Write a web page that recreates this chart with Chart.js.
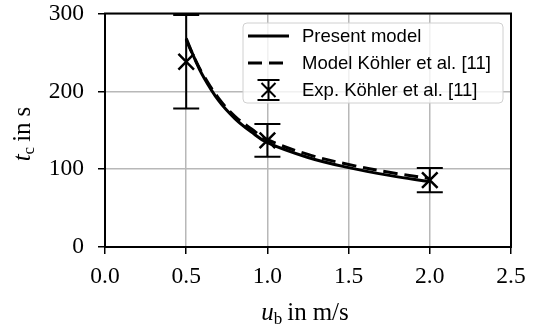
<!DOCTYPE html>
<html>
<head>
<meta charset="utf-8">
<script src="https://cdn.jsdelivr.net/npm/chart.js@4"></script>
<style>
  html, body { margin: 0; padding: 0; background: #fff; }
  #wrap { width: 534px; height: 332px; }
</style>
</head>
<body>
<div id="wrap"><canvas id="tcChart" width="534" height="332"></canvas></div>
<script>
// bulk velocity (m/s) and time values
const uModel = [0.5, 0.55, 0.6, 0.7, 0.8, 0.9, 1.0, 1.25, 1.5, 1.75, 2.0];
const tPresent = [268, 243, 221, 188, 165, 148, 134, 115, 102, 92, 84];
const tKoehler = [266, 243, 223, 191, 168, 152, 138, 119, 106, 96, 88];

const uExp = [0.5, 1.0, 2.0];
const tExp = [238, 137, 86];
const tExpErr = [60, 21, 15.5];

const xTicks = [0, 0.5, 1.0, 1.5, 2.0, 2.5];
const yTicks = [0, 100, 200, 300];

const legendLabels = ['Present model', 'Model Köhler et al. [11]', 'Exp. Köhler et al. [11]'];

const serif = '"Liberation Serif", "DejaVu Serif", serif';
const sans = '"Liberation Sans", Arial, sans-serif';

function toPoints(xs, ys) {
    return xs.map((x, i) => ({ x: x, y: ys[i] }));
}

// error bars with caps, drawn through the chart scales
const errorBars = {
    id: 'errorBars',
    afterDatasetsDraw(chart) {
        const ctx = chart.ctx;
        const xs = chart.scales.x, ys = chart.scales.y;
        ctx.save();
        ctx.strokeStyle = '#000';
        ctx.lineWidth = 2;
        uExp.forEach((u, i) => {
            const px = xs.getPixelForValue(u);
            const top = ys.getPixelForValue(tExp[i] + tExpErr[i]);
            const bot = ys.getPixelForValue(tExp[i] - tExpErr[i]);
            ctx.beginPath();
            ctx.moveTo(px, top); ctx.lineTo(px, bot);
            ctx.moveTo(px - 13, top); ctx.lineTo(px + 13, top);
            ctx.moveTo(px - 13, bot); ctx.lineTo(px + 13, bot);
            ctx.stroke();
        });
        ctx.restore();
    }
};

// full frame, axis titles and the boxed legend
const decorations = {
    id: 'decorations',
    afterDraw(chart) {
        const ctx = chart.ctx;
        const a = chart.chartArea;
        ctx.save();

        // frame
        ctx.strokeStyle = '#000';
        ctx.lineWidth = 2;
        ctx.strokeRect(a.left, a.top, a.right - a.left, a.bottom - a.top);

        ctx.fillStyle = '#000';
        ctx.textBaseline = 'alphabetic';

        // x title: u_b in m/s
        const big = '25px ' + serif, bigIt = 'italic 25px ' + serif, small = '17px ' + serif;
        let parts = [[bigIt, 'u', 0, 0], [small, 'b', 4, 5], [big, 'in', 0, 6], [big, 'm/s', 0, 0]];
        drawParts(ctx, parts, 305, 320);

        // y title: t_c in s (rotated)
        ctx.save();
        ctx.translate(30, 134);
        ctx.rotate(-Math.PI / 2);
        parts = [[bigIt, 't', 0, 0], [small, 'c', 4, 5], [big, 'in', 0, 6], [big, 's', 0, 0]];
        drawParts(ctx, parts, 0, 0);
        ctx.restore();

        // legend
        const lx = 243, ly = 23, lw = 260, lh = 80;
        ctx.beginPath();
        ctx.roundRect(lx, ly, lw, lh, 4);
        ctx.fillStyle = 'rgba(255,255,255,0.8)';
        ctx.fill();
        ctx.strokeStyle = '#d0d0d0';
        ctx.lineWidth = 1;
        ctx.stroke();

        const rows = [36, 63, 90];
        ctx.strokeStyle = '#000';
        ctx.lineWidth = 3;
        ctx.beginPath();
        ctx.moveTo(248, rows[0]); ctx.lineTo(289, rows[0]);
        ctx.stroke();
        ctx.setLineDash([14, 7]);
        ctx.beginPath();
        ctx.moveTo(248, rows[1]); ctx.lineTo(289, rows[1]);
        ctx.stroke();
        ctx.setLineDash([]);
        ctx.lineWidth = 2;
        const mx = 268.5, my = rows[2];
        ctx.beginPath();
        ctx.moveTo(mx, my - 10); ctx.lineTo(mx, my + 10);
        ctx.moveTo(mx - 11, my - 10); ctx.lineTo(mx + 11, my - 10);
        ctx.moveTo(mx - 11, my + 10); ctx.lineTo(mx + 11, my + 10);
        ctx.moveTo(mx - 7, my - 7); ctx.lineTo(mx + 7, my + 7);
        ctx.moveTo(mx + 7, my - 7); ctx.lineTo(mx - 7, my + 7);
        ctx.stroke();

        ctx.fillStyle = '#000';
        ctx.font = '18.5px ' + sans;
        ctx.textAlign = 'left';
        ctx.textBaseline = 'middle';
        legendLabels.forEach((t, i) => ctx.fillText(t, 302, rows[i] + 1));

        ctx.restore();
    }
};

// parts: [font, text, baseline shift, gap after]
function drawParts(ctx, parts, cx, baseY) {
    let total = 0;
    parts.forEach(p => { ctx.font = p[0]; total += ctx.measureText(p[1]).width + p[3]; });
    let x = cx - total / 2;
    ctx.textAlign = 'left';
    parts.forEach(p => {
        ctx.font = p[0];
        ctx.fillText(p[1], x, baseY + p[2]);
        x += ctx.measureText(p[1]).width + p[3];
    });
}

const ctx = document.getElementById('tcChart').getContext('2d');

const tcChart = new Chart(ctx, {
    type: 'scatter',
    data: {
        datasets: [{
            label: legendLabels[0],
            data: toPoints(uModel, tPresent),
            showLine: true,
            borderColor: '#000',
            borderWidth: 3,
            pointRadius: 0,
            tension: 0.4
        },
        {
            label: legendLabels[1],
            data: toPoints(uModel, tKoehler),
            showLine: true,
            borderColor: '#000',
            borderWidth: 3,
            borderDash: [14, 7],
            pointRadius: 0,
            tension: 0.4
        },
        {
            label: legendLabels[2],
            data: toPoints(uExp, tExp),
            showLine: false,
            pointStyle: 'crossRot',
            pointRadius: 11,
            borderColor: '#000',
            borderWidth: 2.5
        }]
    },
    options: {
        responsive: false,
        animation: false,
        layout: { padding: { left: 0, right: 23, top: 12, bottom: 0 } },
        plugins: {
            legend: { display: false },
            tooltip: { enabled: false }
        },
        scales: {
            x: {
                type: 'linear',
                min: 0, max: 2.5,
                afterBuildTicks: axis => { axis.ticks = xTicks.map(v => ({ value: v })); },
                afterFit: axis => {
                    axis.height = 85;
                    axis.paddingLeft = 0; axis.paddingRight = 0;
                },
                grid: { color: '#b8b8b8', lineWidth: 1.5, tickLength: 7, tickColor: '#000', tickWidth: 1.5 },
                border: { color: '#000', width: 2 },
                ticks: {
                    color: '#000',
                    font: { family: serif, size: 23.5 },
                    padding: 9,
                    maxRotation: 0,
                    callback: v => Number(v).toFixed(1)
                }
            },
            y: {
                type: 'linear',
                min: 0, max: 300,
                afterBuildTicks: axis => { axis.ticks = yTicks.map(v => ({ value: v })); },
                afterFit: axis => {
                    axis.width = 105;
                    axis.paddingTop = 0; axis.paddingBottom = 0;
                },
                grid: { color: '#b8b8b8', lineWidth: 1.5, tickLength: 7, tickColor: '#000', tickWidth: 1.5 },
                border: { color: '#000', width: 2 },
                ticks: {
                    color: '#000',
                    font: { family: serif, size: 23.5 },
                    padding: 14,
                    callback: v => String(v)
                }
            }
        }
    },
    plugins: [errorBars, decorations]
});
</script>
</body>
</html>
